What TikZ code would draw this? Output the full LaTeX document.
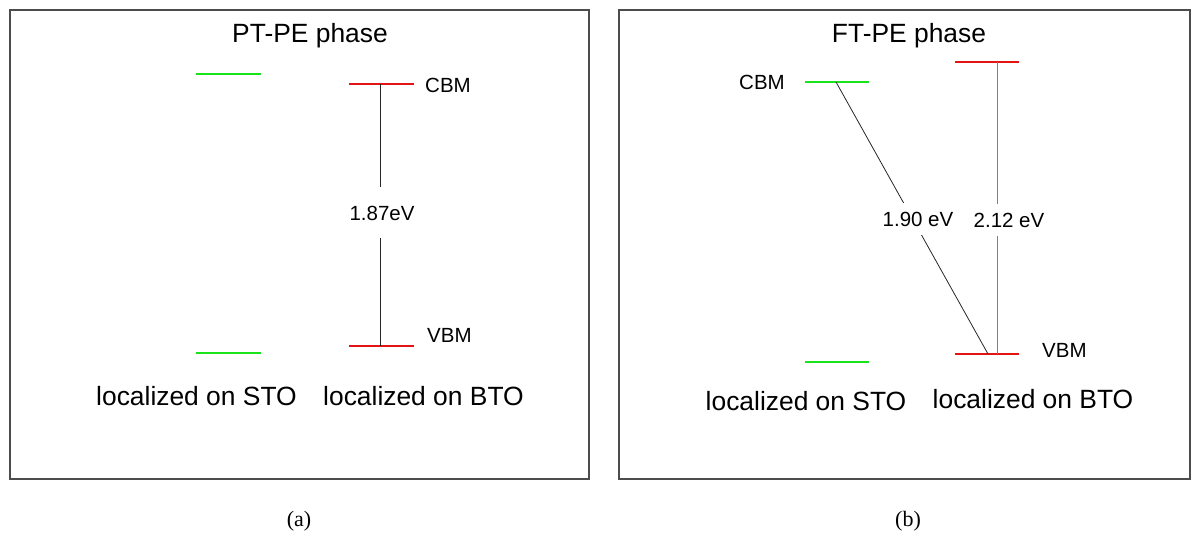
\documentclass[tikz,border=0pt]{standalone}
\usepackage{fontspec}
\setmainfont{Liberation Sans}
\newfontfamily\capfont{Liberation Serif}
\definecolor{levelgreen}{RGB}{25,228,25}
\definecolor{levelred}{RGB}{228,20,20}
\tikzset{
	panelbox/.style={draw=black!70, line width=1.1pt},
	stolevel/.style={draw=levelgreen, line width=2.8pt},
	btolevel/.style={draw=levelred, line width=2.8pt},
	gapline/.style={draw=black!85, line width=0.8pt},
	bigtext/.style={inner sep=0pt, anchor=base, font=\fontsize{26.4}{30}\selectfont},
	edgetext/.style={inner sep=0pt, anchor=base west, font=\fontsize{20.5}{24}\selectfont},
	gaptext/.style={fill=white, inner sep=0pt, inner xsep=2pt, font=\fontsize{20.5}{24}\selectfont},
	captext/.style={inner sep=0pt, anchor=base, font=\capfont\fontsize{22}{26}\selectfont}
}

\begin{document}
\begin{tikzpicture}[x=1pt, y=-1pt]
		\useasboundingbox (0,0) rectangle (1191,534);
		%%%%% PANEL A %%%%%
		\draw[panelbox] (10,10) rectangle (589,479);
		\node[bigtext] (titleA) at (310,43) {PT-PE phase};
		
		\draw[stolevel] (196,74) -- (261,74);
		\draw[stolevel] (196,353) -- (261,353);
		\draw[btolevel] (349,84) -- (414,84);
		\draw[btolevel] (349,346) -- (414,346);
		\coordinate (cbmA) at (380,84);
		\coordinate (vbmA) at (380,346);
		
		\node[edgetext] (cbmlabelA) at (425,93) {CBM};
		\node[edgetext] (vbmlabelA) at (427,343) {VBM};
		
		\draw[gapline] (cbmA) -- (vbmA);
		\node[gaptext, minimum height=51pt] (gapA) at (382,213) {1.87eV};
		
		\node[bigtext] (stoA) at (196.5,406) {localized on STO};
		\node[bigtext] (btoA) at (423.5,406) {localized on BTO};
		\node[captext] (capA) at (299,526) {(a)};
		
		%%%%% PANEL B %%%%%
		\draw[panelbox] (619,10) rectangle (1190,479);
		\node[bigtext] (titleB) at (909,43) {FT-PE phase};
		
		\draw[stolevel] (805,82) -- (869,82);
		\draw[stolevel] (805,362) -- (869,362);
		\draw[btolevel] (955,62) -- (1019,62);
		\draw[btolevel] (955,354) -- (1019,354);
		\coordinate (cbmB) at (836,82);
		\coordinate (topB) at (997,62);
		\coordinate (vbmB) at (988,354);
		\coordinate (botB) at (997,354);
		
		\node[edgetext] (cbmlabelB) at (739,90) {CBM};
		\node[edgetext] (vbmlabelB) at (1042,358) {VBM};
		
		\draw[gapline] (cbmB) -- (vbmB);
		\draw[gapline, draw=black!50] (topB) -- (botB);
		\node[gaptext, minimum height=32pt] (gapB) at (918,219) {1.90 eV};
		\node[gaptext, minimum height=32pt] (gapC) at (1009,220) {2.12 eV};
		
		\node[bigtext] (stoB) at (806,410) {localized on STO};
		\node[bigtext] (btoB) at (1033,408) {localized on BTO};
		\node[captext] (capB) at (908,526) {(b)};
		%%%%% END %%%%%
\end{tikzpicture}
\end{document}
